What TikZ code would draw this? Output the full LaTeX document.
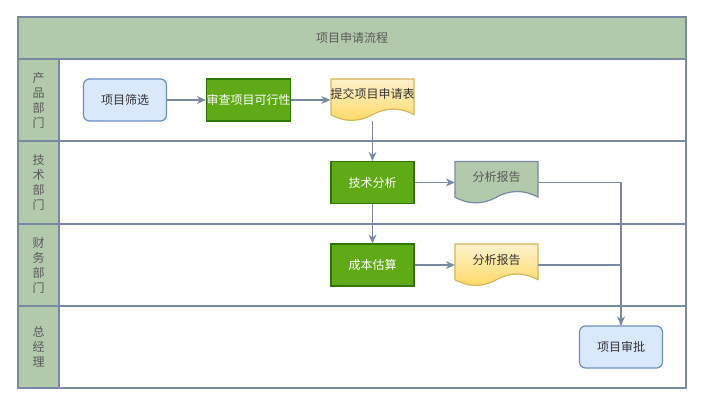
\documentclass[tikz,border=0pt]{standalone}
\usepackage{fontspec}
\setmainfont{Noto Sans CJK SC}
\usepackage{xcolor}
\usepackage{tikz}
\usetikzlibrary{arrows.meta,positioning,calc}

\definecolor{laneGreen}{HTML}{B2C9AB}
\definecolor{laneLine}{HTML}{788AA3}
\definecolor{boxBlue}{HTML}{DAE8FC}
\definecolor{boxBlueLine}{HTML}{6C8EBF}
\definecolor{procGreen}{HTML}{60A917}
\definecolor{procGreenLine}{HTML}{2D7600}
\definecolor{docTop}{HTML}{FFF2CC}
\definecolor{docBottom}{HTML}{FFD966}
\definecolor{docLine}{HTML}{D6B656}
\definecolor{labelGray}{HTML}{5A5A5A}

\begin{document}
\begin{tikzpicture}[
    x=1pt, y=-1pt,
    every node/.style={font=\fontsize{12}{15}\selectfont},
    lane/.style={draw=laneLine, line width=1.4pt},
    lanehead/.style={fill=laneGreen, draw=laneLine, line width=1.4pt},
    lanetext/.style={text=labelGray, align=center},
    term/.style={rectangle, rounded corners=6pt, draw=boxBlueLine, fill=boxBlue, line width=1.2pt, minimum width=83pt, minimum height=42pt, inner sep=0pt, text=black!80},
    proc/.style={rectangle, draw=procGreenLine, fill=procGreen, line width=1.2pt, minimum width=83pt, minimum height=42pt, inner sep=0pt, text=white},
    docnode/.style={rectangle, minimum width=83pt, minimum height=42pt, inner sep=0pt, text height=9pt, text depth=11pt, text=black!80},
    docy/.style={draw=docLine, top color=docTop, bottom color=docBottom, line width=1.2pt},
    docg/.style={draw=laneLine, fill=laneGreen, line width=1.2pt},
    arrow/.style={-{Stealth[length=9pt,width=8pt]}, line width=1.2pt, draw=laneLine},
    link/.style={line width=1.2pt, draw=laneLine}
]
\useasboundingbox (0,0) rectangle (703,406);

% Pool header
\draw[lanehead] (18,17) rectangle (686,59);
\node[lanetext] (title) at (352,38) {项目申请流程};

% Lanes
\foreach \ya/\yb/\nm/\txt in {59/141/lprod/{产\\品\\部\\门}, 141/224/ltech/{技\\术\\部\\门}, 224/306/lfin/{财\\务\\部\\门}, 306/388/lgm/{总\\经\\理}} {
    \fill[laneGreen] (18,\ya) rectangle (59,\yb);
    \draw[lane] (18,\ya) rectangle (686,\yb);
    \draw[lane] (59,\ya) -- (59,\yb);
    \node[lanetext] (\nm) at (38.5,{(\ya+\yb)/2}) {\txt};
}

% Document shapes
\foreach \cx/\cy/\sty in {372.5/100/docy, 496.5/182.5/docg, 496.5/265/docy}
    \draw[\sty, shift={(\cx-41.5,\cy-21)}] (0,0) -- (83,0) -- (83,35.7)
        .. controls (69.17,28.14) and (55.33,28.14) .. (41.5,35.7)
        .. controls (27.67,43.26) and (13.83,43.26) .. (0,35.7) -- cycle;

% Steps
\node[term] (screen) at (125,100) {项目筛选};
\node[proc] (check) at (248.5,100) {审查项目可行性};
\node[docnode] (submit) at (372.5,100) {提交项目申请表};
\node[proc] (tech) at (372.5,182.5) {技术分析};
\node[docnode, text=labelGray] (rep1) at (496.5,182.5) {分析报告};
\node[proc] (cost) at (372.5,265) {成本估算};
\node[docnode] (rep2) at (496.5,265) {分析报告};
\node[term] (approve) at (621,347) {项目审批};

% Flow
\draw[arrow] (screen) -- (check);
\draw[arrow] (check) -- (submit);
\draw[arrow] (submit) -- (tech);
\draw[arrow] (tech) -- (rep1);
\draw[arrow] (tech) -- (cost);
\draw[arrow] (cost) -- (rep2);
\draw[arrow] (rep1) -| (approve);
\draw[link] (rep2) -| (approve);

\end{tikzpicture}
\end{document}
